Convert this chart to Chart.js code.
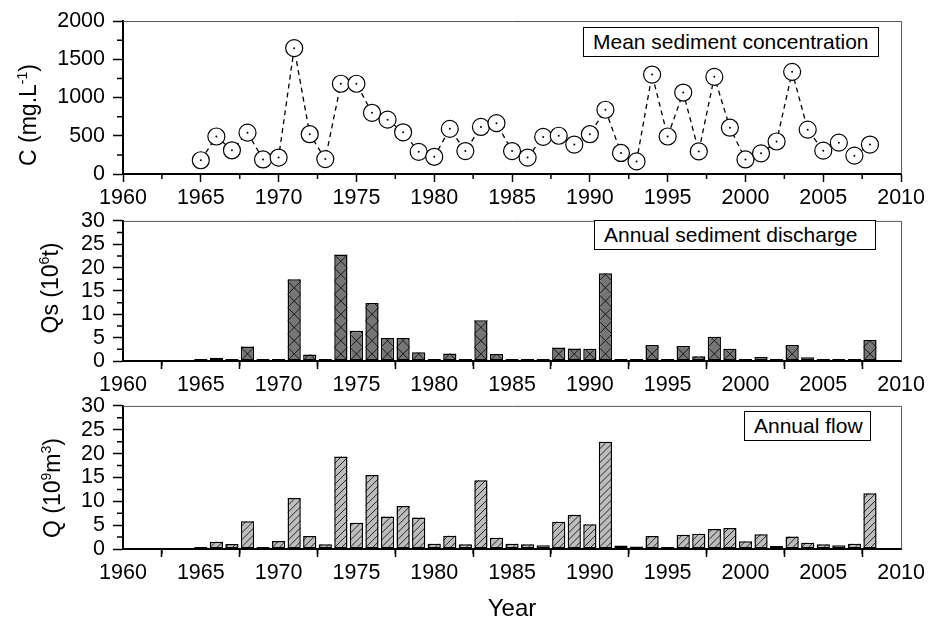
<!DOCTYPE html>
<html>
<head>
<meta charset="utf-8">
<script src="https://cdn.jsdelivr.net/npm/chart.js@4.4.1/dist/chart.umd.min.js"></script>
<style>
  body { margin: 0; width: 928px; height: 619px; background: #fff; position: relative; overflow: hidden;
         font-family: "Liberation Sans", Arial, sans-serif; color: #000; }
  canvas { position: absolute; left: 0; }
  .box { position: absolute; border: 1px solid #000; background: #fff; font-size: 21px; line-height: 28px;
         padding-left: 9px; box-sizing: border-box; height: 30px; white-space: nowrap; }
  .ytitle { position: absolute; font-size: 23px; transform: translate(-50%, -50%) rotate(-90deg); white-space: nowrap; }
  .ytitle sup { font-size: 14px; line-height: 0; }
</style>
</head>
<body>
<canvas id="concChart" width="928" height="210" style="top:0"></canvas>
<canvas id="sedChart" width="928" height="195" style="top:200px"></canvas>
<canvas id="flowChart" width="928" height="234" style="top:385px"></canvas>

<div class="ytitle" style="left:28px;top:115px">C (mg.L<sup>-1</sup>)</div>
<div class="ytitle" style="left:50px;top:288px">Qs (10<sup>6</sup>t)</div>
<div class="ytitle" style="left:52px;top:488px">Q (10<sup>9</sup>m<sup>3</sup>)</div>

<div class="box" style="left:583px;top:27px;width:296px">Mean sediment concentration</div>
<div class="box" style="left:594px;top:220px;width:282px">Annual sediment discharge</div>
<div class="box" style="left:744px;top:411px;width:127px">Annual flow</div>

<script>
// data
const years = [1965, 1966, 1967, 1968, 1969, 1970, 1971, 1972, 1973, 1974,
               1975, 1976, 1977, 1978, 1979, 1980, 1981, 1982, 1983, 1984,
               1985, 1986, 1987, 1988, 1989, 1990, 1991, 1992, 1993, 1994,
               1995, 1996, 1997, 1998, 1999, 2000, 2001, 2002, 2003, 2004,
               2005, 2006, 2007, 2008];

// mean sediment concentration, mg/L
const concentration = [180, 490, 310, 540, 190, 215, 1645, 520, 195, 1180,
                       1180, 800, 710, 545, 290, 225, 590, 300, 615, 665,
                       300, 215, 485, 500, 385, 520, 840, 275, 165, 1300,
                       490, 1065, 295, 1270, 605, 190, 270, 425, 1335, 580,
                       305, 410, 240, 385];

// annual sediment discharge, 10^6 t
const sediment = [0.1, 0.7, 0.3, 3.1, 0.05, 0.3, 17.5, 1.4, 0.1, 22.8,
                  6.5, 12.4, 4.9, 4.9, 1.85, 0.2, 1.6, 0.2, 8.75, 1.5,
                  0.25, 0.1, 0.27, 2.9, 2.7, 2.6, 18.8, 0.1, 0.05, 3.4,
                  0.1, 3.2, 1.0, 5.2, 2.6, 0.2, 0.85, 0.15, 3.4, 0.8,
                  0.2, 0.2, 0.2, 4.5];

// annual flow, 10^9 m3
const flow = [0.33, 1.5, 1.05, 5.8, 0.1, 1.7, 10.7, 2.7, 1.0, 19.4,
              5.5, 15.5, 6.8, 9.0, 6.6, 1.1, 2.8, 1.0, 14.4, 2.35,
              1.1, 1.0, 0.8, 5.7, 7.2, 5.2, 22.5, 0.75, 0.55, 2.7,
              0.3, 3.0, 3.2, 4.2, 4.4, 1.65, 3.1, 0.65, 2.6, 1.3,
              1.0, 0.8, 1.1, 11.7];

Chart.defaults.font.family = '"Liberation Sans", Arial, sans-serif';
Chart.defaults.color = '#000';

const toPoints = vals => years.map((yr, i) => ({ x: yr, y: vals[i] }));

// thin frame on top/right + minor ticks between the major ones
const framePlugin = {
  id: 'frame',
  afterDraw(chart) {
    const { ctx, chartArea: a, scales } = chart;
    ctx.save();
    ctx.strokeStyle = '#555';
    ctx.lineWidth = 1;
    ctx.beginPath();
    ctx.moveTo(a.left, a.top + 0.5);
    ctx.lineTo(a.right + 0.5, a.top + 0.5);
    ctx.lineTo(a.right + 0.5, a.bottom);
    ctx.stroke();

    ctx.strokeStyle = '#000';
    ctx.lineWidth = 1.5;
    ctx.beginPath();
    const xt = scales.x.ticks;
    for (let i = 0; i < xt.length - 1; i++) {
      const px = scales.x.getPixelForValue((xt[i].value + xt[i + 1].value) / 2);
      ctx.moveTo(px, a.bottom);
      ctx.lineTo(px, a.bottom + 5);
    }
    const yt = scales.y.ticks;
    for (let i = 0; i < yt.length - 1; i++) {
      const py = scales.y.getPixelForValue((yt[i].value + yt[i + 1].value) / 2);
      ctx.moveTo(a.left - 6, py);
      ctx.lineTo(a.left, py);
    }
    ctx.stroke();
    ctx.restore();
  }
};

// hatch fill drawn inside each bar
const hatchPlugin = {
  id: 'hatch',
  afterDatasetsDraw(chart, args, opts) {
    if (!opts.style) return;
    const ctx = chart.ctx;
    chart.getDatasetMeta(0).data.forEach(bar => {
      const { x, y, base, width } = bar.getProps(['x', 'y', 'base', 'width'], true);
      const left = x - width / 2, right = x + width / 2;
      const top = Math.min(y, base), bottom = Math.max(y, base);
      if (bottom - top < 4) return;
      ctx.save();
      ctx.beginPath();
      ctx.rect(left, top, width, bottom - top);
      ctx.clip();
      ctx.strokeStyle = '#000';
      ctx.lineWidth = 0.8;
      ctx.beginPath();
      if (opts.style === 'cross') {
        for (let yy = bottom; yy > top - width; yy -= width) {
          ctx.moveTo(left, yy); ctx.lineTo(right, yy - width);
          ctx.moveTo(right, yy); ctx.lineTo(left, yy - width);
        }
      } else {
        for (let yy = bottom + width; yy > top; yy -= 7) {
          ctx.moveTo(left, yy); ctx.lineTo(right, yy - width);
        }
      }
      ctx.stroke();
      ctx.restore();
    });
  }
};

function xScale(axisHeight, title) {
  return {
    type: 'linear', min: 1960, max: 2010, offset: false,
    ticks: { stepSize: 5, font: { size: 21.5 }, padding: 3, maxRotation: 0, autoSkip: false, callback: v => String(v) },
    grid: { drawOnChartArea: false, tickLength: 8, tickColor: '#000', tickWidth: 1.5 },
    border: { color: '#000', width: 2, z: 1 },
    title: title
      ? { display: true, text: title, font: { size: 24, lineHeight: 1 }, padding: { top: 0, bottom: -2 } }
      : { display: false },
    afterFit: s => { s.height = axisHeight; }
  };
}

function yScale(max, step) {
  return {
    min: 0, max: max,
    ticks: { stepSize: step, font: { size: 21.5 }, padding: 8, autoSkip: false, callback: v => String(v) },
    grid: { drawOnChartArea: false, tickLength: 10, tickColor: '#000', tickWidth: 1.5 },
    border: { color: '#000', width: 2, z: 1 },
    afterFit: s => { s.width = 123; }
  };
}

const common = {
  responsive: false,
  animation: false,
  devicePixelRatio: 1,
};

new Chart(document.getElementById('concChart'), {
  type: 'line',
  data: {
    datasets: [
      {
        data: toPoints(concentration),
        order: 2,
        borderColor: '#000',
        borderWidth: 1.3,
        borderDash: [5, 4],
        pointRadius: 8.5,
        pointBorderWidth: 1.2,
        pointBorderColor: '#000',
        pointBackgroundColor: '#fff',
        tension: 0
      },
      {
        data: toPoints(concentration),
        order: 1,
        showLine: false,
        pointRadius: 1,
        pointBorderWidth: 0,
        pointBackgroundColor: '#000'
      }
    ]
  },
  options: {
    ...common,
    layout: { padding: { top: 21, left: 0, right: 25, bottom: 0 } },
    plugins: { legend: { display: false }, tooltip: { enabled: false } },
    scales: { x: xScale(36), y: yScale(2000, 500) }
  },
  plugins: [framePlugin]
});

function barChart(id, vals, fill, hatch, padTop, axisHeight, title) {
  return new Chart(document.getElementById(id), {
    type: 'bar',
    data: {
      datasets: [{
        data: toPoints(vals),
        backgroundColor: fill,
        borderColor: '#000',
        borderWidth: 1.5,
        borderSkipped: false,
        minBarLength: 2,
        barPercentage: 0.85,
        categoryPercentage: 1
      }]
    },
    options: {
      ...common,
      layout: { padding: { top: padTop, left: 0, right: 25, bottom: 0 } },
      plugins: { legend: { display: false }, tooltip: { enabled: false }, hatch: { style: hatch } },
      scales: { x: xScale(axisHeight, title), y: yScale(30, 5) }
    },
    plugins: [hatchPlugin, framePlugin]
  });
}

barChart('sedChart', sediment, '#767676', 'cross', 9, 34);
barChart('flowChart', flow, '#bdbdbd', 'diag', 11, 70, 'Year');
</script>
</body>
</html>
